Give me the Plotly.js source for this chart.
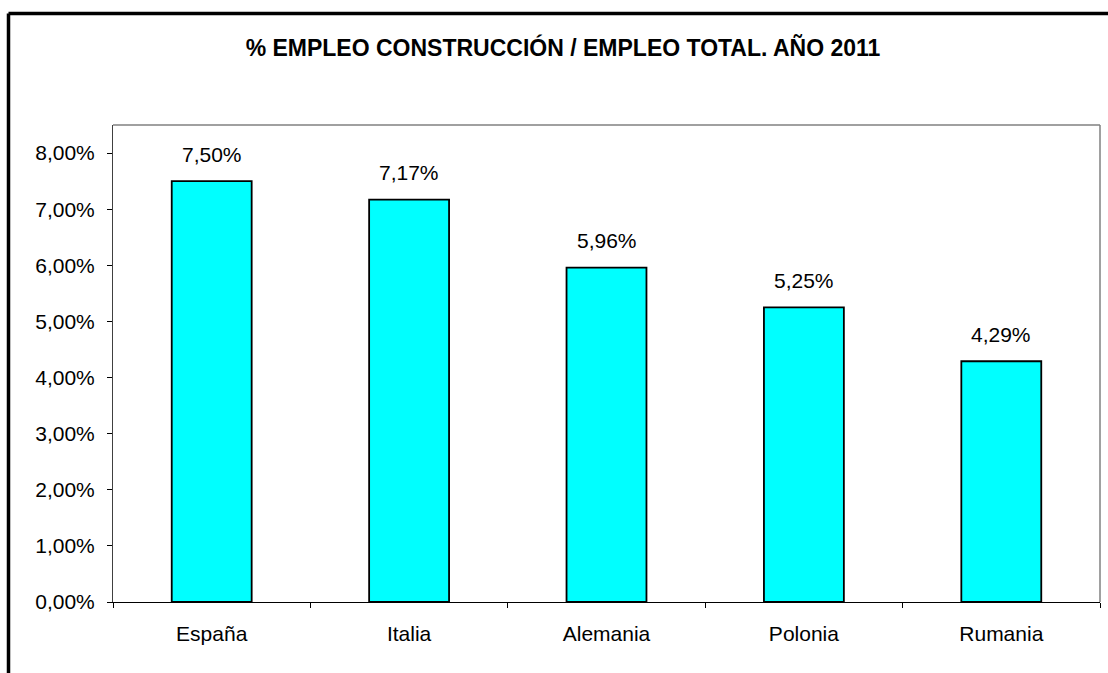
<!DOCTYPE html>
<html>
<head>
<meta charset="utf-8">
<script src="https://cdn.plot.ly/plotly-3.0.1.min.js"></script>
<style>
html,body{margin:0;padding:0;background:#fff;}
#chart{width:1108px;height:673px;}
</style>
</head>
<body>
<div id="chart"></div>
<script>
const categories = ["España", "Italia", "Alemania", "Polonia", "Rumania"];
const values = [7.50, 7.17, 5.96, 5.25, 4.29];
const yTicks = [0, 1, 2, 3, 4, 5, 6, 7, 8];
const titleText = "% EMPLEO CONSTRUCCIÓN / EMPLEO TOTAL. AÑO 2011";

function fmt(v) { return v.toFixed(2).replace('.', ',') + '%'; }

const trace = {
  type: 'bar',
  x: categories,
  y: values,
  width: 0.405,
  marker: { color: '#00FFFF', line: { color: '#000000', width: 1.8 } },
  hoverinfo: 'none'
};

const annotations = categories.map((c, i) => ({
  x: c, y: values[i], xref: 'x', yref: 'y',
  text: fmt(values[i]), showarrow: false,
  yanchor: 'middle', yshift: 27,
  font: { family: 'Liberation Sans, Arial, sans-serif', size: 21, color: '#000' }
}));

const layout = {
  width: 1108, height: 673,
  margin: { l: 113, r: 8, t: 125, b: 71, pad: 0 },
  paper_bgcolor: '#ffffff', plot_bgcolor: '#ffffff',
  showlegend: false,
  separators: ',.',
  font: { family: 'Liberation Sans, Arial, sans-serif', size: 21, color: '#000' },
  title: {
    text: '<b>' + titleText + '</b>',
    xref: 'paper', x: (563 - 113) / 987, xanchor: 'center',
    yref: 'container', y: 1 - 48 / 673, yanchor: 'middle',
    font: { family: 'Liberation Sans, Arial, sans-serif', size: 23, color: '#000' }
  },
  xaxis: {
    type: 'category',
    tickson: 'boundaries',
    ticks: 'outside', ticklen: 5, tickwidth: 1, tickcolor: '#000',
    showline: true, linecolor: '#000', linewidth: 1,
    showgrid: false, zeroline: false,
    ticklabelstandoff: 13,
    tickfont: { size: 21 }
  },
  yaxis: {
    range: [0, 8.5],
    tickvals: yTicks,
    ticktext: yTicks.map(fmt),
    ticks: 'outside', ticklen: 5, tickwidth: 1, tickcolor: '#000',
    showline: true, linecolor: '#404040', linewidth: 1,
    showgrid: false, zeroline: false,
    ticklabelstandoff: 8,
    tickfont: { size: 21 }
  },
  annotations: annotations,
  shapes: [
    { type: 'line', xref: 'paper', yref: 'paper', x0: 0, x1: 1, y0: 1, y1: 1,
      line: { color: '#808080', width: 1.5 } },
    { type: 'line', xref: 'paper', yref: 'paper', x0: 1, x1: 1, y0: 0, y1: 1,
      line: { color: '#808080', width: 1.5 } },
    { type: 'line', xref: 'paper', yref: 'paper',
      x0: (8.5 - 113) / 987, x1: 1.2, y0: (602 - 13.5) / 477, y1: (602 - 13.5) / 477,
      line: { color: '#000', width: 3.5 } },
    { type: 'line', xref: 'paper', yref: 'paper',
      x0: (8.5 - 113) / 987, x1: (8.5 - 113) / 987, y0: -0.3, y1: (602 - 13.5) / 477,
      line: { color: '#000', width: 3.5 } }
  ]
};

Plotly.newPlot('chart', [trace], layout, { staticPlot: true, displayModeBar: false });
</script>
</body>
</html>
